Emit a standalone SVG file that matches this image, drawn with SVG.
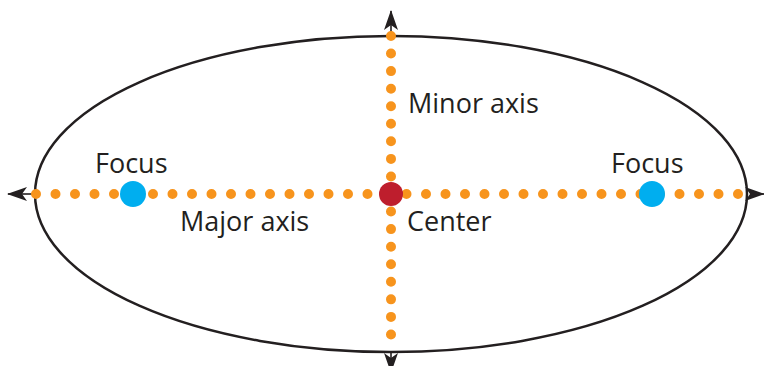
<svg xmlns="http://www.w3.org/2000/svg" width="764" height="366" viewBox="0 0 764 366">
<defs>
<marker id="arr" viewBox="0 0 20 14" refX="19" refY="7" markerWidth="20" markerHeight="14" markerUnits="userSpaceOnUse" orient="auto">
<path d="M0,0 L20,7 L0,14 L5,7 Z" fill="#231f20"/>
</marker>
</defs>
<style>
.lbl{font-family:"Open Sans","Liberation Sans",sans-serif;font-size:27px;fill:#231f20}
.ax{stroke:#231f20;stroke-width:1.6;fill:none}
.dot{fill:#f7941d}
.dots{stroke:#f7941d;stroke-width:10;stroke-linecap:round;fill:none}
</style>
<rect width="764" height="366" fill="#fff"/>
<g id="ellipse">
<ellipse cx="391" cy="194" rx="356" ry="158" fill="none" stroke="#231f20" stroke-width="2.5"/>
</g>
<g id="connectors">
<line class="ax" x1="36" y1="194" x2="8" y2="194" marker-end="url(#arr)"/>
<line class="ax" x1="757" y1="194" x2="764" y2="194" marker-end="url(#arr)"/>
<line class="ax" x1="391" y1="36" x2="391" y2="11" marker-end="url(#arr)"/>
<line class="ax" x1="391" y1="352" x2="391" y2="372" marker-end="url(#arr)"/>
<line id="major-axis" class="dots" x1="36" y1="194" x2="757.5" y2="194" stroke-dasharray="0 19.5"/>
<line id="minor-axis" class="dots" x1="391" y1="36" x2="391" y2="352" stroke-dasharray="0 17.556"/>
</g>
<g id="focus-left">
<circle cx="133" cy="194" r="13" fill="#00aeef"/>
<text class="lbl" x="95" y="173">Focus</text>
</g>
<g id="focus-right">
<circle cx="652" cy="194" r="13" fill="#00aeef"/>
<text class="lbl" x="611" y="173">Focus</text>
</g>
<g id="center">
<circle cx="391" cy="194" r="12" fill="#be1e2d"/>
<text class="lbl" x="407" y="231">Center</text>
</g>
<g id="minor-label">
<text class="lbl" x="408" y="113">Minor axis</text>
</g>
<g id="major-label">
<text class="lbl" x="180" y="231">Major axis</text>
</g>
</svg>
